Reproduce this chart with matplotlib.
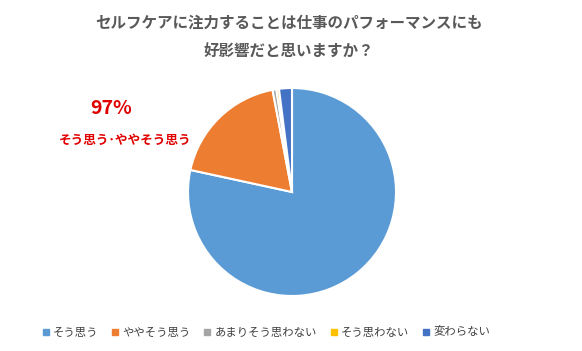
import matplotlib
matplotlib.use("Agg")
import matplotlib.pyplot as plt
from matplotlib.lines import Line2D

plt.rcParams['font.family'] = ['Noto Sans CJK JP', 'DejaVu Sans']

categories = ['そう思う', 'ややそう思う', 'あまりそう思わない', 'そう思わない', '変わらない']
values = [78.4, 18.6, 0.6, 0.4, 2.0]
colors = ['#5B9BD5', '#ED7D31', '#A5A5A5', '#FFC000', '#4472C4']
title = 'セルフケアに注力することは仕事のパフォーマンスにも\n好影響だと思いますか？'
callout_pct = '97%'
callout_label = 'そう思う･ややそう思う'

fig = plt.figure(figsize=(5.82, 3.51), dpi=100)
fig.patch.set_facecolor('white')

ax = fig.add_axes([(292 - 104) / 582, 1 - (192 + 104) / 351, 208 / 582, 208 / 351])
ax.pie(values, colors=colors, startangle=90, counterclock=False,
       wedgeprops=dict(edgecolor='white', linewidth=1.5))
ax.set_xlim(-1.0, 1.0)
ax.set_ylim(-1.0, 1.0)
ax.set_aspect('equal')
ax.axis('off')

fig.text(0.5 - 2 / 582, 1 - 37 / 351, title, ha='center', va='center', fontsize=11.2,
         fontweight='bold', color='#595959', linespacing=1.9)

fig.text(111 / 582, 1 - 108 / 351, callout_pct, ha='center', va='center',
         fontsize=14, fontweight='bold', color='#E00000')
fig.text(125 / 582, 1 - 140 / 351, callout_label, ha='center', va='center',
         fontsize=9.1, fontweight='bold', color='#E00000')

handles = [Line2D([0], [0], marker='s', linestyle='none', markersize=4.5,
                  markerfacecolor=c, markeredgecolor=c) for c in colors]
leg = fig.legend(handles, categories, loc='center', bbox_to_anchor=(266 / 582, 1 - 332 / 351),
                 ncol=5, frameon=False, fontsize=8.2, handlelength=0.7,
                 handletextpad=0.3, columnspacing=1.1, labelcolor='#404040')

fig.savefig('out.png', dpi=100, facecolor='white')
